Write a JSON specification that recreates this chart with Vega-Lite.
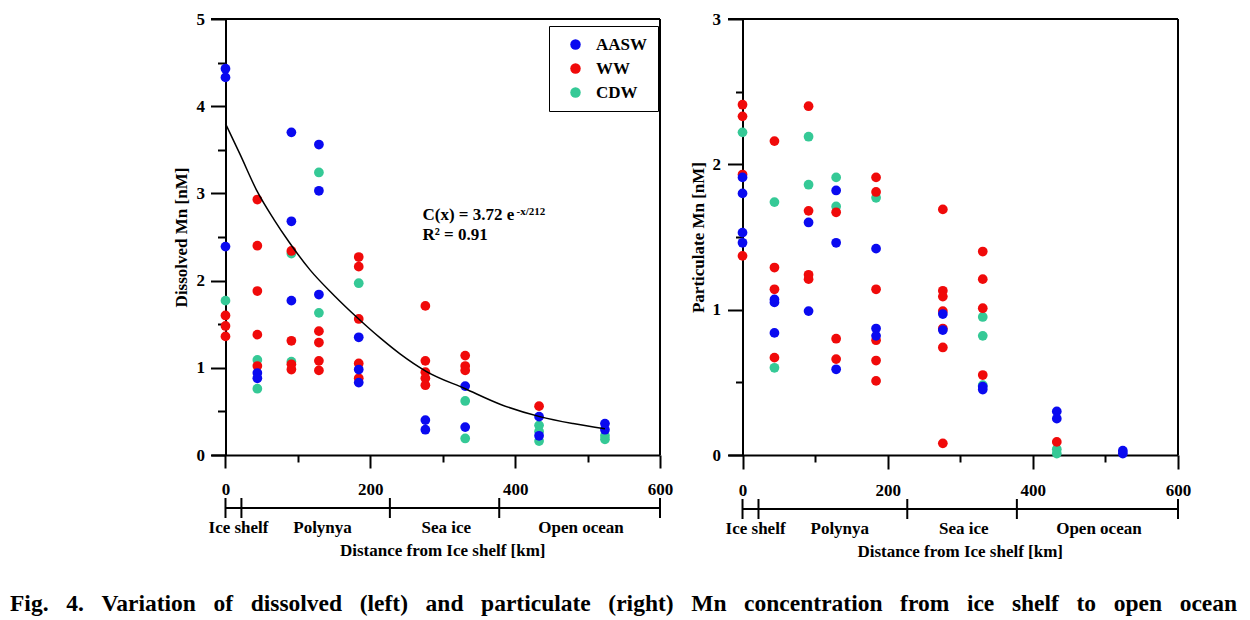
{
  "$schema": "https://vega.github.io/schema/vega-lite/v6.json",
  "usermeta": {"embedOptions": {"actions": false}},
  "padding": {"left": 10, "top": 10, "right": 0, "bottom": 0},
  "config": {
    "font": "Liberation Serif",
    "view": {"stroke": null},
    "axis": {"grid": false, "labelFont": "Liberation Serif", "labelFontWeight": "bold", "labelFontSize": 17, "labelColor": "black", "titleFont": "Liberation Serif", "titleFontWeight": "bold", "titleFontSize": 17, "titleColor": "black", "domainColor": "black", "tickColor": "black", "domainWidth": 2, "tickWidth": 2, "labelOverlap": false, "labelFlush": false}
  },
  "datasets": {
    "dis": [
      {"km":0,"mn":1.77,"water":"CDW"},{"km":44,"mn":1.09,"water":"CDW"},{"km":44,"mn":0.76,"water":"CDW"},{"km":91,"mn":2.31,"water":"CDW"},{"km":91,"mn":1.07,"water":"CDW"},{"km":129,"mn":3.24,"water":"CDW"},{"km":129,"mn":1.63,"water":"CDW"},{"km":184,"mn":1.97,"water":"CDW"},{"km":331,"mn":0.62,"water":"CDW"},{"km":331,"mn":0.19,"water":"CDW"},{"km":433,"mn":0.34,"water":"CDW"},{"km":433,"mn":0.27,"water":"CDW"},{"km":433,"mn":0.16,"water":"CDW"},{"km":524,"mn":0.22,"water":"CDW"},{"km":524,"mn":0.18,"water":"CDW"},
      {"km":0,"mn":1.6,"water":"WW"},{"km":0,"mn":1.48,"water":"WW"},{"km":0,"mn":1.36,"water":"WW"},
      {"km":44,"mn":2.93,"water":"WW"},{"km":44,"mn":2.4,"water":"WW"},{"km":44,"mn":1.88,"water":"WW"},{"km":44,"mn":1.38,"water":"WW"},{"km":44,"mn":1.02,"water":"WW"},
      {"km":91,"mn":2.34,"water":"WW"},{"km":91,"mn":1.31,"water":"WW"},{"km":91,"mn":1.04,"water":"WW"},{"km":91,"mn":0.98,"water":"WW"},
      {"km":129,"mn":1.42,"water":"WW"},{"km":129,"mn":1.29,"water":"WW"},{"km":129,"mn":1.08,"water":"WW"},{"km":129,"mn":0.97,"water":"WW"},
      {"km":184,"mn":2.27,"water":"WW"},{"km":184,"mn":2.16,"water":"WW"},{"km":184,"mn":1.56,"water":"WW"},{"km":184,"mn":1.05,"water":"WW"},{"km":184,"mn":0.88,"water":"WW"},
      {"km":276,"mn":1.71,"water":"WW"},{"km":276,"mn":1.08,"water":"WW"},{"km":276,"mn":0.95,"water":"WW"},{"km":276,"mn":0.88,"water":"WW"},{"km":276,"mn":0.8,"water":"WW"},
      {"km":331,"mn":1.14,"water":"WW"},{"km":331,"mn":1.02,"water":"WW"},{"km":331,"mn":0.97,"water":"WW"},
      {"km":433,"mn":0.56,"water":"WW"},
      {"km":0,"mn":4.43,"water":"AASW"},{"km":0,"mn":4.33,"water":"AASW"},{"km":0,"mn":2.39,"water":"AASW"},
      {"km":44,"mn":0.94,"water":"AASW"},{"km":44,"mn":0.88,"water":"AASW"},
      {"km":91,"mn":3.7,"water":"AASW"},{"km":91,"mn":2.68,"water":"AASW"},{"km":91,"mn":1.77,"water":"AASW"},
      {"km":129,"mn":3.56,"water":"AASW"},{"km":129,"mn":3.03,"water":"AASW"},{"km":129,"mn":1.84,"water":"AASW"},
      {"km":184,"mn":1.35,"water":"AASW"},{"km":184,"mn":0.98,"water":"AASW"},{"km":184,"mn":0.83,"water":"AASW"},
      {"km":276,"mn":0.4,"water":"AASW"},{"km":276,"mn":0.29,"water":"AASW"},
      {"km":331,"mn":0.79,"water":"AASW"},{"km":331,"mn":0.32,"water":"AASW"},
      {"km":433,"mn":0.44,"water":"AASW"},{"km":433,"mn":0.22,"water":"AASW"},
      {"km":524,"mn":0.36,"water":"AASW"},{"km":524,"mn":0.29,"water":"AASW"}
    ],
    "par": [
      {"km":0,"mn":2.22,"water":"CDW"},{"km":44,"mn":1.74,"water":"CDW"},{"km":44,"mn":0.6,"water":"CDW"},{"km":91,"mn":2.19,"water":"CDW"},{"km":91,"mn":1.86,"water":"CDW"},{"km":129,"mn":1.91,"water":"CDW"},{"km":129,"mn":1.71,"water":"CDW"},{"km":184,"mn":1.77,"water":"CDW"},{"km":331,"mn":0.95,"water":"CDW"},{"km":331,"mn":0.82,"water":"CDW"},{"km":331,"mn":0.48,"water":"CDW"},{"km":433,"mn":0.04,"water":"CDW"},{"km":433,"mn":0.01,"water":"CDW"},
      {"km":0,"mn":2.41,"water":"WW"},{"km":0,"mn":2.33,"water":"WW"},{"km":0,"mn":1.93,"water":"WW"},{"km":0,"mn":1.37,"water":"WW"},
      {"km":44,"mn":2.16,"water":"WW"},{"km":44,"mn":1.29,"water":"WW"},{"km":44,"mn":1.14,"water":"WW"},{"km":44,"mn":0.67,"water":"WW"},
      {"km":91,"mn":2.4,"water":"WW"},{"km":91,"mn":1.68,"water":"WW"},{"km":91,"mn":1.24,"water":"WW"},{"km":91,"mn":1.21,"water":"WW"},
      {"km":129,"mn":1.67,"water":"WW"},{"km":129,"mn":0.8,"water":"WW"},{"km":129,"mn":0.66,"water":"WW"},
      {"km":184,"mn":1.91,"water":"WW"},{"km":184,"mn":1.81,"water":"WW"},{"km":184,"mn":1.14,"water":"WW"},{"km":184,"mn":0.79,"water":"WW"},{"km":184,"mn":0.65,"water":"WW"},{"km":184,"mn":0.51,"water":"WW"},
      {"km":276,"mn":1.69,"water":"WW"},{"km":276,"mn":1.13,"water":"WW"},{"km":276,"mn":1.09,"water":"WW"},{"km":276,"mn":0.99,"water":"WW"},{"km":276,"mn":0.87,"water":"WW"},{"km":276,"mn":0.74,"water":"WW"},{"km":276,"mn":0.08,"water":"WW"},
      {"km":331,"mn":1.4,"water":"WW"},{"km":331,"mn":1.21,"water":"WW"},{"km":331,"mn":1.01,"water":"WW"},{"km":331,"mn":0.55,"water":"WW"},
      {"km":433,"mn":0.09,"water":"WW"},
      {"km":0,"mn":1.91,"water":"AASW"},{"km":0,"mn":1.8,"water":"AASW"},{"km":0,"mn":1.53,"water":"AASW"},{"km":0,"mn":1.46,"water":"AASW"},
      {"km":44,"mn":1.07,"water":"AASW"},{"km":44,"mn":1.05,"water":"AASW"},{"km":44,"mn":0.84,"water":"AASW"},
      {"km":91,"mn":1.6,"water":"AASW"},{"km":91,"mn":0.99,"water":"AASW"},
      {"km":129,"mn":1.82,"water":"AASW"},{"km":129,"mn":1.46,"water":"AASW"},{"km":129,"mn":0.59,"water":"AASW"},
      {"km":184,"mn":1.42,"water":"AASW"},{"km":184,"mn":0.87,"water":"AASW"},{"km":184,"mn":0.82,"water":"AASW"},
      {"km":276,"mn":0.97,"water":"AASW"},{"km":276,"mn":0.86,"water":"AASW"},
      {"km":331,"mn":0.47,"water":"AASW"},{"km":331,"mn":0.45,"water":"AASW"},
      {"km":433,"mn":0.3,"water":"AASW"},{"km":433,"mn":0.25,"water":"AASW"},
      {"km":524,"mn":0.03,"water":"AASW"},{"km":524,"mn":0.01,"water":"AASW"}
    ],
    "curve": [
      {"km":0,"mn":3.8},{"km":20,"mn":3.45},{"km":44,"mn":3.02},{"km":67,"mn":2.7},{"km":88,"mn":2.44},{"km":117,"mn":2.12},{"km":150,"mn":1.83},{"km":184,"mn":1.56},{"km":214,"mn":1.34},{"km":241,"mn":1.16},{"km":277,"mn":0.96},{"km":331,"mn":0.76},{"km":380,"mn":0.58},{"km":434,"mn":0.44},{"km":480,"mn":0.36},{"km":524,"mn":0.3}
    ],
    "bounds": [{"b":0},{"b":22},{"b":227},{"b":378},{"b":600}],
    "regions": [{"region":"Ice shelf","km":18},{"region":"Polynya","km":134},{"region":"Sea ice","km":305},{"region":"Open ocean","km":491}]
  },
  "title": {"text": "Fig. \u00a0\u00a04. \u00a0\u00a0Variation \u00a0\u00a0of \u00a0\u00a0dissolved \u00a0\u00a0(left) \u00a0\u00a0and \u00a0\u00a0particulate \u00a0\u00a0(right) \u00a0\u00a0Mn \u00a0\u00a0concentration \u00a0\u00a0from \u00a0\u00a0ice \u00a0\u00a0shelf \u00a0\u00a0to \u00a0\u00a0open \u00a0\u00a0ocean", "orient": "bottom", "anchor": "start", "font": "Liberation Serif", "fontSize": 23.5, "fontWeight": "bold", "color": "black", "offset": 32, "dx": -162, "limit": 2000},
  "hconcat": [
    {
      "spacing": 0,
      "vconcat": [
        {
          "width": 449, "height": 436,
          "layer": [
            {
              "data": {"name": "dis"},
              "mark": {"type": "circle", "size": 95, "opacity": 1},
              "encoding": {
                "x": {"field": "km", "type": "quantitative", "scale": {"domain": [-20, 600], "nice": false, "zero": false},
                  "axis": {"title": null, "values": [0,100,200,300,400,500,600], "labelExpr": "datum.value % 200 === 0 ? datum.label : ''", "tickSize": {"condition": {"test": "datum.value % 200 !== 0", "value": 7}, "value": 13}, "labelPadding": 13}},
                "y": {"field": "mn", "type": "quantitative", "scale": {"domain": [0, 5], "nice": false},
                  "axis": {"title": "Dissolved Mn [nM]", "offset": -14.5, "values": [0,0.5,1,1.5,2,2.5,3,3.5,4,4.5,5], "labelExpr": "datum.value % 1 === 0 ? format(datum.value, 'd') : ''", "tickSize": {"condition": {"test": "datum.value % 1 !== 0", "value": 8}, "value": 15}, "labelPadding": 6, "titlePadding": 6}},
                "color": {"field": "water", "type": "nominal", "scale": {"domain": ["AASW", "WW", "CDW"], "range": ["#0a0af0", "#f00a0a", "#35c996"]},
                  "legend": {"title": null, "orient": "none", "legendX": 338, "legendY": 7, "strokeColor": "black", "fillColor": "white", "padding": 10, "labelFont": "Liberation Serif", "labelFontSize": 17, "labelFontWeight": "bold", "labelColor": "black", "symbolType": "circle", "symbolSize": 110, "symbolStrokeWidth": 0, "symbolOffset": 8, "rowPadding": 6, "labelOffset": 12}}
              }
            },
            {
              "data": {"name": "curve"},
              "mark": {"type": "line", "color": "black", "strokeWidth": 1.5, "interpolate": "monotone"},
              "encoding": {"x": {"field": "km", "type": "quantitative"}, "y": {"field": "mn", "type": "quantitative"}}
            },
            {
              "data": {"values": [{}]},
              "mark": {"type": "rule", "color": "black", "strokeWidth": 2},
              "encoding": {"x": {"datum": -20}, "x2": {"datum": 600}, "y": {"datum": 5}}
            },
            {
              "data": {"values": [{}]},
              "mark": {"type": "rule", "color": "black", "strokeWidth": 2},
              "encoding": {"x": {"datum": 600}, "y": {"datum": 0}, "y2": {"datum": 5}}
            },
            {
              "data": {"values": [{}]},
              "mark": {"type": "text", "align": "left", "baseline": "alphabetic", "fontSize": 17, "fontWeight": "bold", "color": "black"},
              "encoding": {"x": {"datum": 272}, "y": {"datum": 2.7}, "text": {"value": "C(x) = 3.72 e"}}
            },
            {
              "data": {"values": [{}]},
              "mark": {"type": "text", "align": "left", "baseline": "alphabetic", "fontSize": 11, "fontWeight": "bold", "color": "black"},
              "encoding": {"x": {"datum": 402}, "y": {"datum": 2.75}, "text": {"value": "-x/212"}}
            },
            {
              "data": {"values": [{}]},
              "mark": {"type": "text", "align": "left", "baseline": "alphabetic", "fontSize": 17, "fontWeight": "bold", "color": "black"},
              "encoding": {"x": {"datum": 272}, "y": {"datum": 2.47}, "text": {"value": "R² = 0.91"}}
            }
          ]
        },
        {
          "width": 449, "height": 20,
          "layer": [
            {
              "data": {"values": [{}]},
              "mark": {"type": "rule", "color": "black", "strokeWidth": 2},
              "encoding": {"x": {"datum": 0, "type": "quantitative", "scale": {"domain": [-20, 600], "nice": false, "zero": false}, "axis": null}, "x2": {"datum": 600}, "y": {"datum": 0, "type": "quantitative", "scale": {"domain": [-1, 1], "nice": false}, "axis": null}}
            },
            {
              "data": {"name": "bounds"},
              "mark": {"type": "rule", "color": "black", "strokeWidth": 2},
              "encoding": {"x": {"field": "b", "type": "quantitative"}, "y": {"datum": -1}, "y2": {"datum": 1}}
            },
            {
              "data": {"name": "regions"},
              "mark": {"type": "text", "baseline": "alphabetic", "dy": 15, "fontSize": 17, "fontWeight": "bold", "color": "black"},
              "encoding": {"x": {"field": "km", "type": "quantitative"}, "y": {"datum": -1}, "text": {"field": "region"}}
            },
            {
              "data": {"values": [{}]},
              "mark": {"type": "text", "baseline": "alphabetic", "dy": 38, "fontSize": 17, "fontWeight": "bold", "color": "black"},
              "encoding": {"x": {"datum": 300}, "y": {"datum": -1}, "text": {"value": "Distance from Ice shelf [km]"}}
            }
          ]
        }
      ]
    },
    {
      "spacing": 0,
      "vconcat": [
        {
          "width": 450, "height": 436,
          "layer": [
            {
              "data": {"name": "par"},
              "mark": {"type": "circle", "size": 95, "opacity": 1},
              "encoding": {
                "x": {"field": "km", "type": "quantitative", "scale": {"domain": [-20, 600], "nice": false, "zero": false},
                  "axis": {"title": null, "values": [0,100,200,300,400,500,600], "labelExpr": "datum.value % 200 === 0 ? datum.label : ''", "tickSize": {"condition": {"test": "datum.value % 200 !== 0", "value": 7}, "value": 14}, "labelPadding": 13}},
                "y": {"field": "mn", "type": "quantitative", "scale": {"domain": [0, 3], "nice": false},
                  "axis": {"title": "Particulate Mn [nM]", "offset": -14.5, "values": [0,0.5,1,1.5,2,2.5,3], "labelExpr": "datum.value % 1 === 0 ? format(datum.value, 'd') : ''", "tickSize": {"condition": {"test": "datum.value % 1 !== 0", "value": 7}, "value": 15}, "labelPadding": 7, "titlePadding": 5}},
                "color": {"field": "water", "type": "nominal", "scale": {"domain": ["AASW", "WW", "CDW"], "range": ["#0a0af0", "#f00a0a", "#35c996"]},
                  "legend": {"title": null, "orient": "none", "legendX": 335, "legendY": 10, "strokeColor": "black", "fillColor": "white", "padding": 10, "labelFont": "Liberation Serif", "labelFontSize": 17, "labelFontWeight": "bold", "labelColor": "black", "symbolType": "circle", "symbolSize": 110, "symbolStrokeWidth": 0, "symbolOffset": 8, "rowPadding": 6, "labelOffset": 12}}
              }
            },
            {
              "data": {"values": [{}]},
              "mark": {"type": "rule", "color": "black", "strokeWidth": 2},
              "encoding": {"x": {"datum": -20}, "x2": {"datum": 600}, "y": {"datum": 3}}
            },
            {
              "data": {"values": [{}]},
              "mark": {"type": "rule", "color": "black", "strokeWidth": 2},
              "encoding": {"x": {"datum": 600}, "y": {"datum": 0}, "y2": {"datum": 3}}
            }
          ]
        },
        {
          "width": 450, "height": 20,
          "layer": [
            {
              "data": {"values": [{}]},
              "mark": {"type": "rule", "color": "black", "strokeWidth": 2},
              "encoding": {"x": {"datum": 0, "type": "quantitative", "scale": {"domain": [-20, 600], "nice": false, "zero": false}, "axis": null}, "x2": {"datum": 600}, "y": {"datum": 0, "type": "quantitative", "scale": {"domain": [-1, 1], "nice": false}, "axis": null}}
            },
            {
              "data": {"name": "bounds"},
              "mark": {"type": "rule", "color": "black", "strokeWidth": 2},
              "encoding": {"x": {"field": "b", "type": "quantitative"}, "y": {"datum": -1}, "y2": {"datum": 1}}
            },
            {
              "data": {"name": "regions"},
              "mark": {"type": "text", "baseline": "alphabetic", "dy": 15, "fontSize": 17, "fontWeight": "bold", "color": "black"},
              "encoding": {"x": {"field": "km", "type": "quantitative"}, "y": {"datum": -1}, "text": {"field": "region"}}
            },
            {
              "data": {"values": [{}]},
              "mark": {"type": "text", "baseline": "alphabetic", "dy": 38, "fontSize": 17, "fontWeight": "bold", "color": "black"},
              "encoding": {"x": {"datum": 300}, "y": {"datum": -1}, "text": {"value": "Distance from Ice shelf [km]"}}
            }
          ]
        }
      ]
    }
  ],
  "spacing": 16
}
